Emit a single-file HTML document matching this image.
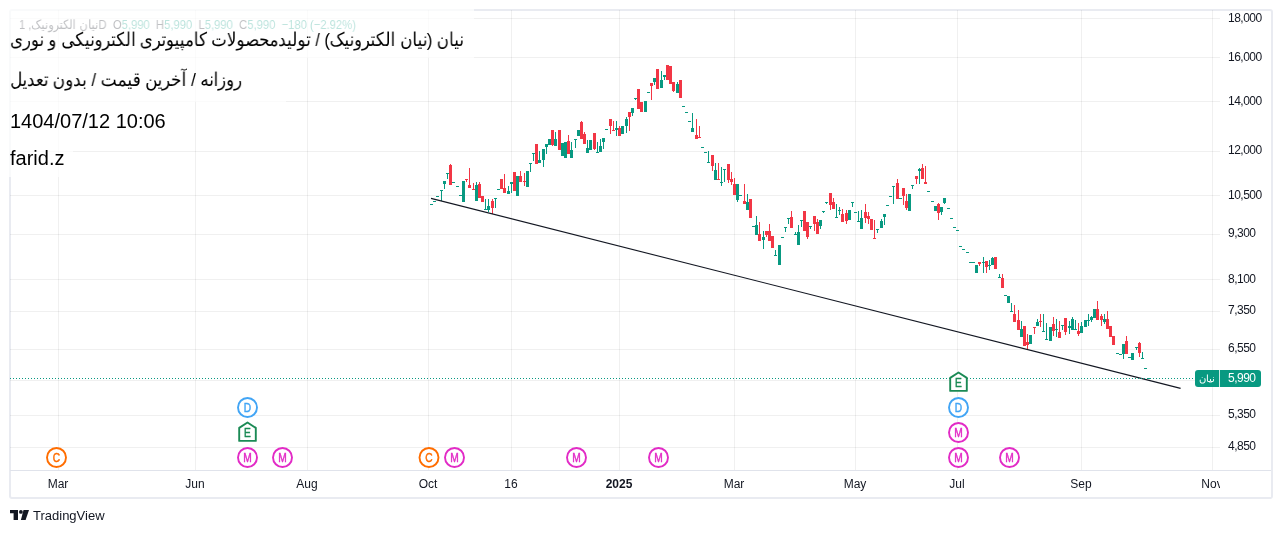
<!DOCTYPE html>
<html><head><meta charset="utf-8">
<style>
html,body{margin:0;padding:0;background:#fff;}
div{will-change:transform;}
body{width:1282px;height:533px;position:relative;overflow:hidden;font-family:"Liberation Sans",sans-serif;color:#131722;}
svg{position:absolute;left:0;top:0;}
.pl{position:absolute;left:1228px;font-size:12px;line-height:14px;letter-spacing:-0.5px;color:#131722;}
.tl{position:absolute;top:477px;width:60px;text-align:center;font-size:12px;line-height:14px;color:#131722;}
.tl.b{font-weight:bold;}
.box{position:absolute;background:rgba(255,255,255,0.73);}
.tt{position:absolute;left:10px;font-size:19px;line-height:24px;color:#000;white-space:nowrap;transform-origin:0 0;}
.legend{position:absolute;left:19px;top:18px;font-size:13px;line-height:14px;color:#131722;white-space:nowrap;transform-origin:0 0;transform:scaleX(0.864);}
.legend .v{color:#089981;}
</style></head><body>
<svg width="1282" height="533" shape-rendering="crispEdges">
<rect x="10" y="10" width="1262" height="488" rx="2" fill="none" stroke="#e9ebf1" stroke-width="2" shape-rendering="geometricPrecision"/>
<rect x="10" y="18" width="1210" height="1" fill="rgba(0,0,0,0.06)"/>
<rect x="10" y="57" width="1210" height="1" fill="rgba(0,0,0,0.06)"/>
<rect x="10" y="101" width="1210" height="1" fill="rgba(0,0,0,0.06)"/>
<rect x="10" y="151" width="1210" height="1" fill="rgba(0,0,0,0.06)"/>
<rect x="10" y="195" width="1210" height="1" fill="rgba(0,0,0,0.06)"/>
<rect x="10" y="234" width="1210" height="1" fill="rgba(0,0,0,0.06)"/>
<rect x="10" y="279" width="1210" height="1" fill="rgba(0,0,0,0.06)"/>
<rect x="10" y="311" width="1210" height="1" fill="rgba(0,0,0,0.06)"/>
<rect x="10" y="349" width="1210" height="1" fill="rgba(0,0,0,0.06)"/>
<rect x="10" y="380" width="1210" height="1" fill="rgba(0,0,0,0.06)"/>
<rect x="10" y="415" width="1210" height="1" fill="rgba(0,0,0,0.06)"/>
<rect x="10" y="447" width="1210" height="1" fill="rgba(0,0,0,0.06)"/>
<rect x="58" y="10" width="1" height="460" fill="rgba(0,0,0,0.06)"/>
<rect x="195" y="10" width="1" height="460" fill="rgba(0,0,0,0.06)"/>
<rect x="307" y="10" width="1" height="460" fill="rgba(0,0,0,0.06)"/>
<rect x="428" y="10" width="1" height="460" fill="rgba(0,0,0,0.06)"/>
<rect x="511" y="10" width="1" height="460" fill="rgba(0,0,0,0.06)"/>
<rect x="619" y="10" width="1" height="460" fill="rgba(0,0,0,0.06)"/>
<rect x="734" y="10" width="1" height="460" fill="rgba(0,0,0,0.06)"/>
<rect x="855" y="10" width="1" height="460" fill="rgba(0,0,0,0.06)"/>
<rect x="957" y="10" width="1" height="460" fill="rgba(0,0,0,0.06)"/>
<rect x="1081" y="10" width="1" height="460" fill="rgba(0,0,0,0.06)"/>
<rect x="1212" y="10" width="1" height="460" fill="rgba(0,0,0,0.06)"/>
<rect x="10" y="470" width="1261" height="1" fill="#e0e3eb"/>
</svg>
<div class="legend"><span dir="rtl">نیان الکترونیک, 1</span>D&nbsp; O<span class="v">5,990</span>&nbsp; H<span class="v">5,990</span>&nbsp; L<span class="v">5,990</span>&nbsp; C<span class="v">5,990</span>&nbsp; <span class="v">−180 (−2.92%)</span></div>
<svg width="1282" height="533" shape-rendering="crispEdges">
<rect x="430" y="204" width="3" height="1" fill="#089981"/>
<rect x="433" y="201" width="3" height="1" fill="#089981"/>
<rect x="436" y="196" width="3" height="1" fill="#089981"/>
<rect x="441" y="190" width="1" height="11" fill="#089981"/>
<rect x="440" y="190" width="3" height="1" fill="#089981"/>
<rect x="444" y="181" width="1" height="8" fill="#089981"/>
<rect x="443" y="181" width="3" height="3" fill="#089981"/>
<rect x="447" y="173" width="1" height="6" fill="#089981"/>
<rect x="446" y="173" width="3" height="1" fill="#089981"/>
<rect x="450" y="164" width="1" height="21" fill="#f23645"/>
<rect x="449" y="165" width="3" height="20" fill="#f23645"/>
<rect x="452" y="182" width="3" height="1" fill="#089981"/>
<rect x="456" y="186" width="3" height="1" fill="#089981"/>
<rect x="459" y="195" width="3" height="1" fill="#089981"/>
<rect x="462" y="181" width="3" height="21" fill="#089981"/>
<rect x="466" y="179" width="1" height="3" fill="#f23645"/>
<rect x="465" y="179" width="3" height="1" fill="#f23645"/>
<rect x="469" y="168" width="1" height="20" fill="#f23645"/>
<rect x="468" y="185" width="3" height="3" fill="#f23645"/>
<rect x="473" y="183" width="1" height="7" fill="#f23645"/>
<rect x="472" y="189" width="3" height="1" fill="#f23645"/>
<rect x="476" y="182" width="1" height="19" fill="#089981"/>
<rect x="475" y="185" width="3" height="16" fill="#089981"/>
<rect x="479" y="182" width="1" height="16" fill="#f23645"/>
<rect x="478" y="184" width="3" height="14" fill="#f23645"/>
<rect x="481" y="196" width="3" height="6" fill="#f23645"/>
<rect x="485" y="199" width="1" height="11" fill="#089981"/>
<rect x="484" y="209" width="3" height="1" fill="#089981"/>
<rect x="488" y="199" width="1" height="13" fill="#089981"/>
<rect x="487" y="206" width="3" height="4" fill="#089981"/>
<rect x="492" y="199" width="1" height="15" fill="#f23645"/>
<rect x="491" y="201" width="3" height="7" fill="#f23645"/>
<rect x="495" y="198" width="1" height="10" fill="#089981"/>
<rect x="494" y="198" width="3" height="1" fill="#089981"/>
<rect x="497" y="189" width="3" height="1" fill="#089981"/>
<rect x="500" y="179" width="3" height="10" fill="#f23645"/>
<rect x="504" y="174" width="1" height="19" fill="#f23645"/>
<rect x="503" y="188" width="3" height="5" fill="#f23645"/>
<rect x="508" y="186" width="1" height="8" fill="#089981"/>
<rect x="507" y="191" width="3" height="3" fill="#089981"/>
<rect x="511" y="182" width="1" height="11" fill="#089981"/>
<rect x="510" y="182" width="3" height="2" fill="#089981"/>
<rect x="513" y="172" width="3" height="19" fill="#f23645"/>
<rect x="516" y="176" width="3" height="20" fill="#089981"/>
<rect x="520" y="171" width="1" height="11" fill="#f23645"/>
<rect x="519" y="176" width="3" height="6" fill="#f23645"/>
<rect x="524" y="173" width="1" height="13" fill="#f23645"/>
<rect x="523" y="181" width="3" height="1" fill="#f23645"/>
<rect x="526" y="171" width="3" height="16" fill="#089981"/>
<rect x="530" y="163" width="1" height="9" fill="#089981"/>
<rect x="529" y="163" width="3" height="1" fill="#089981"/>
<rect x="533" y="153" width="1" height="8" fill="#089981"/>
<rect x="532" y="153" width="3" height="1" fill="#089981"/>
<rect x="535" y="144" width="3" height="20" fill="#f23645"/>
<rect x="539" y="151" width="1" height="12" fill="#089981"/>
<rect x="538" y="160" width="3" height="3" fill="#089981"/>
<rect x="543" y="149" width="1" height="18" fill="#089981"/>
<rect x="542" y="149" width="3" height="11" fill="#089981"/>
<rect x="546" y="144" width="1" height="10" fill="#089981"/>
<rect x="545" y="144" width="3" height="3" fill="#089981"/>
<rect x="548" y="139" width="3" height="6" fill="#089981"/>
<rect x="552" y="130" width="1" height="16" fill="#f23645"/>
<rect x="551" y="130" width="3" height="15" fill="#f23645"/>
<rect x="555" y="132" width="1" height="14" fill="#089981"/>
<rect x="554" y="139" width="3" height="7" fill="#089981"/>
<rect x="558" y="130" width="3" height="20" fill="#f23645"/>
<rect x="561" y="143" width="3" height="13" fill="#089981"/>
<rect x="564" y="142" width="3" height="16" fill="#089981"/>
<rect x="568" y="135" width="1" height="19" fill="#f23645"/>
<rect x="567" y="141" width="3" height="13" fill="#f23645"/>
<rect x="571" y="142" width="1" height="16" fill="#089981"/>
<rect x="570" y="150" width="3" height="8" fill="#089981"/>
<rect x="575" y="139" width="1" height="9" fill="#089981"/>
<rect x="574" y="139" width="3" height="1" fill="#089981"/>
<rect x="577" y="130" width="3" height="6" fill="#089981"/>
<rect x="581" y="121" width="1" height="18" fill="#f23645"/>
<rect x="580" y="122" width="3" height="17" fill="#f23645"/>
<rect x="584" y="132" width="1" height="12" fill="#f23645"/>
<rect x="583" y="134" width="3" height="10" fill="#f23645"/>
<rect x="587" y="140" width="1" height="13" fill="#089981"/>
<rect x="586" y="148" width="3" height="5" fill="#089981"/>
<rect x="589" y="140" width="3" height="10" fill="#089981"/>
<rect x="594" y="133" width="1" height="17" fill="#f23645"/>
<rect x="593" y="133" width="3" height="16" fill="#f23645"/>
<rect x="597" y="142" width="1" height="11" fill="#089981"/>
<rect x="596" y="152" width="3" height="1" fill="#089981"/>
<rect x="600" y="139" width="1" height="13" fill="#089981"/>
<rect x="599" y="146" width="3" height="6" fill="#089981"/>
<rect x="603" y="138" width="1" height="11" fill="#089981"/>
<rect x="602" y="138" width="3" height="4" fill="#089981"/>
<rect x="605" y="129" width="3" height="1" fill="#089981"/>
<rect x="610" y="119" width="1" height="15" fill="#f23645"/>
<rect x="609" y="119" width="3" height="7" fill="#f23645"/>
<rect x="613" y="121" width="1" height="10" fill="#f23645"/>
<rect x="612" y="130" width="3" height="1" fill="#f23645"/>
<rect x="616" y="121" width="1" height="15" fill="#089981"/>
<rect x="615" y="128" width="3" height="2" fill="#089981"/>
<rect x="619" y="126" width="1" height="10" fill="#f23645"/>
<rect x="618" y="128" width="3" height="8" fill="#f23645"/>
<rect x="621" y="126" width="3" height="8" fill="#089981"/>
<rect x="626" y="117" width="1" height="16" fill="#089981"/>
<rect x="625" y="119" width="3" height="7" fill="#089981"/>
<rect x="629" y="112" width="1" height="19" fill="#f23645"/>
<rect x="628" y="112" width="3" height="5" fill="#f23645"/>
<rect x="632" y="108" width="1" height="8" fill="#089981"/>
<rect x="631" y="108" width="3" height="5" fill="#089981"/>
<rect x="635" y="98" width="1" height="2" fill="#089981"/>
<rect x="634" y="98" width="3" height="1" fill="#089981"/>
<rect x="637" y="89" width="3" height="20" fill="#f23645"/>
<rect x="640" y="102" width="3" height="10" fill="#f23645"/>
<rect x="644" y="101" width="3" height="11" fill="#089981"/>
<rect x="647" y="92" width="3" height="1" fill="#089981"/>
<rect x="651" y="83" width="1" height="17" fill="#f23645"/>
<rect x="650" y="83" width="3" height="3" fill="#f23645"/>
<rect x="654" y="78" width="1" height="7" fill="#089981"/>
<rect x="653" y="78" width="3" height="4" fill="#089981"/>
<rect x="656" y="69" width="3" height="20" fill="#f23645"/>
<rect x="661" y="71" width="1" height="17" fill="#089981"/>
<rect x="660" y="80" width="3" height="8" fill="#089981"/>
<rect x="664" y="75" width="1" height="5" fill="#089981"/>
<rect x="663" y="75" width="3" height="2" fill="#089981"/>
<rect x="666" y="65" width="3" height="15" fill="#f23645"/>
<rect x="669" y="66" width="3" height="18" fill="#f23645"/>
<rect x="673" y="82" width="1" height="10" fill="#f23645"/>
<rect x="672" y="82" width="3" height="9" fill="#f23645"/>
<rect x="677" y="82" width="1" height="11" fill="#089981"/>
<rect x="676" y="84" width="3" height="9" fill="#089981"/>
<rect x="679" y="80" width="3" height="18" fill="#f23645"/>
<rect x="682" y="106" width="3" height="1" fill="#089981"/>
<rect x="685" y="112" width="3" height="1" fill="#089981"/>
<rect x="688" y="121" width="3" height="1" fill="#089981"/>
<rect x="692" y="113" width="1" height="19" fill="#089981"/>
<rect x="691" y="128" width="3" height="4" fill="#089981"/>
<rect x="696" y="119" width="1" height="20" fill="#f23645"/>
<rect x="695" y="135" width="3" height="4" fill="#f23645"/>
<rect x="699" y="126" width="1" height="12" fill="#f23645"/>
<rect x="698" y="137" width="3" height="1" fill="#f23645"/>
<rect x="701" y="147" width="3" height="1" fill="#089981"/>
<rect x="704" y="152" width="3" height="1" fill="#089981"/>
<rect x="708" y="151" width="1" height="12" fill="#089981"/>
<rect x="707" y="162" width="3" height="1" fill="#089981"/>
<rect x="712" y="155" width="1" height="16" fill="#f23645"/>
<rect x="711" y="155" width="3" height="11" fill="#f23645"/>
<rect x="715" y="163" width="1" height="17" fill="#089981"/>
<rect x="714" y="170" width="3" height="10" fill="#089981"/>
<rect x="718" y="163" width="1" height="17" fill="#f23645"/>
<rect x="717" y="179" width="3" height="1" fill="#f23645"/>
<rect x="721" y="167" width="1" height="19" fill="#089981"/>
<rect x="720" y="182" width="3" height="1" fill="#089981"/>
<rect x="724" y="169" width="1" height="13" fill="#089981"/>
<rect x="723" y="169" width="3" height="1" fill="#089981"/>
<rect x="728" y="164" width="1" height="19" fill="#f23645"/>
<rect x="727" y="164" width="3" height="16" fill="#f23645"/>
<rect x="731" y="172" width="1" height="13" fill="#f23645"/>
<rect x="730" y="179" width="3" height="3" fill="#f23645"/>
<rect x="734" y="178" width="1" height="17" fill="#f23645"/>
<rect x="733" y="184" width="3" height="11" fill="#f23645"/>
<rect x="737" y="184" width="1" height="18" fill="#089981"/>
<rect x="736" y="184" width="3" height="16" fill="#089981"/>
<rect x="739" y="195" width="3" height="1" fill="#089981"/>
<rect x="744" y="184" width="1" height="20" fill="#f23645"/>
<rect x="743" y="201" width="3" height="3" fill="#f23645"/>
<rect x="747" y="194" width="1" height="16" fill="#089981"/>
<rect x="746" y="202" width="3" height="8" fill="#089981"/>
<rect x="749" y="199" width="3" height="19" fill="#f23645"/>
<rect x="752" y="226" width="3" height="1" fill="#089981"/>
<rect x="756" y="216" width="1" height="19" fill="#089981"/>
<rect x="755" y="225" width="3" height="10" fill="#089981"/>
<rect x="759" y="222" width="1" height="19" fill="#f23645"/>
<rect x="758" y="234" width="3" height="7" fill="#f23645"/>
<rect x="763" y="231" width="1" height="18" fill="#089981"/>
<rect x="762" y="237" width="3" height="3" fill="#089981"/>
<rect x="766" y="231" width="1" height="6" fill="#f23645"/>
<rect x="765" y="231" width="3" height="4" fill="#f23645"/>
<rect x="769" y="224" width="1" height="17" fill="#f23645"/>
<rect x="768" y="231" width="3" height="10" fill="#f23645"/>
<rect x="771" y="236" width="3" height="12" fill="#f23645"/>
<rect x="775" y="250" width="1" height="6" fill="#089981"/>
<rect x="774" y="255" width="3" height="1" fill="#089981"/>
<rect x="778" y="245" width="3" height="20" fill="#089981"/>
<rect x="781" y="237" width="3" height="1" fill="#089981"/>
<rect x="785" y="227" width="1" height="5" fill="#089981"/>
<rect x="784" y="227" width="3" height="1" fill="#089981"/>
<rect x="788" y="218" width="1" height="6" fill="#089981"/>
<rect x="787" y="218" width="3" height="1" fill="#089981"/>
<rect x="791" y="211" width="1" height="17" fill="#f23645"/>
<rect x="790" y="217" width="3" height="11" fill="#f23645"/>
<rect x="795" y="232" width="1" height="3" fill="#089981"/>
<rect x="794" y="234" width="3" height="1" fill="#089981"/>
<rect x="798" y="225" width="1" height="20" fill="#089981"/>
<rect x="797" y="232" width="3" height="13" fill="#089981"/>
<rect x="801" y="220" width="1" height="7" fill="#089981"/>
<rect x="800" y="220" width="3" height="1" fill="#089981"/>
<rect x="803" y="211" width="3" height="20" fill="#f23645"/>
<rect x="807" y="222" width="1" height="17" fill="#f23645"/>
<rect x="806" y="222" width="3" height="15" fill="#f23645"/>
<rect x="810" y="226" width="1" height="3" fill="#089981"/>
<rect x="809" y="226" width="3" height="1" fill="#089981"/>
<rect x="814" y="216" width="1" height="15" fill="#f23645"/>
<rect x="813" y="216" width="3" height="8" fill="#f23645"/>
<rect x="817" y="219" width="1" height="15" fill="#f23645"/>
<rect x="816" y="222" width="3" height="12" fill="#f23645"/>
<rect x="820" y="220" width="1" height="9" fill="#089981"/>
<rect x="819" y="220" width="3" height="6" fill="#089981"/>
<rect x="823" y="211" width="1" height="2" fill="#089981"/>
<rect x="822" y="211" width="3" height="1" fill="#089981"/>
<rect x="826" y="202" width="1" height="2" fill="#089981"/>
<rect x="825" y="202" width="3" height="1" fill="#089981"/>
<rect x="830" y="193" width="1" height="17" fill="#f23645"/>
<rect x="829" y="193" width="3" height="12" fill="#f23645"/>
<rect x="833" y="198" width="1" height="11" fill="#f23645"/>
<rect x="832" y="202" width="3" height="7" fill="#f23645"/>
<rect x="836" y="204" width="1" height="14" fill="#089981"/>
<rect x="835" y="217" width="3" height="1" fill="#089981"/>
<rect x="839" y="207" width="1" height="8" fill="#089981"/>
<rect x="838" y="210" width="3" height="1" fill="#089981"/>
<rect x="842" y="209" width="1" height="13" fill="#f23645"/>
<rect x="841" y="214" width="3" height="8" fill="#f23645"/>
<rect x="846" y="210" width="1" height="14" fill="#f23645"/>
<rect x="845" y="213" width="3" height="8" fill="#f23645"/>
<rect x="848" y="210" width="3" height="10" fill="#089981"/>
<rect x="852" y="202" width="1" height="5" fill="#089981"/>
<rect x="851" y="202" width="3" height="1" fill="#089981"/>
<rect x="854" y="212" width="3" height="1" fill="#089981"/>
<rect x="858" y="211" width="1" height="11" fill="#089981"/>
<rect x="857" y="221" width="3" height="1" fill="#089981"/>
<rect x="861" y="210" width="1" height="19" fill="#089981"/>
<rect x="860" y="218" width="3" height="11" fill="#089981"/>
<rect x="865" y="204" width="1" height="19" fill="#f23645"/>
<rect x="864" y="212" width="3" height="6" fill="#f23645"/>
<rect x="868" y="212" width="1" height="12" fill="#f23645"/>
<rect x="867" y="216" width="3" height="3" fill="#f23645"/>
<rect x="870" y="219" width="3" height="11" fill="#f23645"/>
<rect x="874" y="220" width="1" height="19" fill="#f23645"/>
<rect x="873" y="238" width="3" height="1" fill="#f23645"/>
<rect x="877" y="229" width="1" height="4" fill="#089981"/>
<rect x="876" y="229" width="3" height="1" fill="#089981"/>
<rect x="881" y="219" width="1" height="9" fill="#089981"/>
<rect x="880" y="221" width="3" height="7" fill="#089981"/>
<rect x="884" y="214" width="1" height="11" fill="#089981"/>
<rect x="883" y="214" width="3" height="3" fill="#089981"/>
<rect x="886" y="205" width="3" height="1" fill="#089981"/>
<rect x="889" y="196" width="3" height="1" fill="#089981"/>
<rect x="893" y="186" width="1" height="18" fill="#089981"/>
<rect x="892" y="186" width="3" height="1" fill="#089981"/>
<rect x="897" y="179" width="1" height="20" fill="#f23645"/>
<rect x="896" y="183" width="3" height="16" fill="#f23645"/>
<rect x="899" y="198" width="3" height="1" fill="#089981"/>
<rect x="903" y="188" width="1" height="17" fill="#f23645"/>
<rect x="902" y="188" width="3" height="8" fill="#f23645"/>
<rect x="906" y="194" width="1" height="16" fill="#f23645"/>
<rect x="905" y="201" width="3" height="7" fill="#f23645"/>
<rect x="908" y="194" width="3" height="17" fill="#089981"/>
<rect x="912" y="185" width="1" height="4" fill="#089981"/>
<rect x="911" y="185" width="3" height="1" fill="#089981"/>
<rect x="916" y="176" width="1" height="8" fill="#f23645"/>
<rect x="915" y="176" width="3" height="3" fill="#f23645"/>
<rect x="919" y="168" width="1" height="16" fill="#089981"/>
<rect x="918" y="169" width="3" height="2" fill="#089981"/>
<rect x="922" y="164" width="1" height="15" fill="#f23645"/>
<rect x="921" y="168" width="3" height="11" fill="#f23645"/>
<rect x="925" y="166" width="1" height="18" fill="#f23645"/>
<rect x="924" y="182" width="3" height="2" fill="#f23645"/>
<rect x="927" y="191" width="3" height="1" fill="#089981"/>
<rect x="931" y="201" width="3" height="1" fill="#089981"/>
<rect x="934" y="206" width="3" height="5" fill="#089981"/>
<rect x="938" y="203" width="1" height="17" fill="#f23645"/>
<rect x="937" y="204" width="3" height="9" fill="#f23645"/>
<rect x="941" y="207" width="1" height="8" fill="#089981"/>
<rect x="940" y="207" width="3" height="5" fill="#089981"/>
<rect x="944" y="198" width="1" height="6" fill="#089981"/>
<rect x="943" y="198" width="3" height="5" fill="#089981"/>
<rect x="947" y="208" width="3" height="1" fill="#089981"/>
<rect x="950" y="218" width="3" height="1" fill="#089981"/>
<rect x="953" y="227" width="3" height="1" fill="#089981"/>
<rect x="956" y="230" width="3" height="1" fill="#089981"/>
<rect x="959" y="246" width="3" height="1" fill="#089981"/>
<rect x="962" y="249" width="3" height="1" fill="#089981"/>
<rect x="966" y="252" width="3" height="1" fill="#089981"/>
<rect x="969" y="262" width="3" height="1" fill="#089981"/>
<rect x="972" y="262" width="3" height="1" fill="#089981"/>
<rect x="975" y="265" width="3" height="8" fill="#089981"/>
<rect x="979" y="262" width="1" height="4" fill="#f23645"/>
<rect x="978" y="262" width="3" height="2" fill="#f23645"/>
<rect x="983" y="257" width="1" height="16" fill="#089981"/>
<rect x="982" y="262" width="3" height="1" fill="#089981"/>
<rect x="986" y="261" width="1" height="12" fill="#f23645"/>
<rect x="985" y="261" width="3" height="6" fill="#f23645"/>
<rect x="989" y="260" width="1" height="10" fill="#089981"/>
<rect x="988" y="265" width="3" height="1" fill="#089981"/>
<rect x="992" y="257" width="1" height="8" fill="#089981"/>
<rect x="991" y="258" width="3" height="7" fill="#089981"/>
<rect x="994" y="257" width="3" height="12" fill="#f23645"/>
<rect x="999" y="274" width="1" height="4" fill="#089981"/>
<rect x="998" y="277" width="3" height="1" fill="#089981"/>
<rect x="1002" y="274" width="1" height="14" fill="#f23645"/>
<rect x="1001" y="278" width="3" height="10" fill="#f23645"/>
<rect x="1004" y="295" width="3" height="1" fill="#089981"/>
<rect x="1007" y="296" width="3" height="7" fill="#089981"/>
<rect x="1011" y="303" width="1" height="9" fill="#089981"/>
<rect x="1010" y="311" width="3" height="1" fill="#089981"/>
<rect x="1014" y="305" width="1" height="17" fill="#f23645"/>
<rect x="1013" y="314" width="3" height="8" fill="#f23645"/>
<rect x="1018" y="310" width="1" height="20" fill="#f23645"/>
<rect x="1017" y="320" width="3" height="10" fill="#f23645"/>
<rect x="1021" y="321" width="1" height="16" fill="#089981"/>
<rect x="1020" y="329" width="3" height="8" fill="#089981"/>
<rect x="1023" y="326" width="3" height="20" fill="#f23645"/>
<rect x="1027" y="334" width="1" height="15" fill="#f23645"/>
<rect x="1026" y="342" width="3" height="3" fill="#f23645"/>
<rect x="1029" y="335" width="3" height="9" fill="#089981"/>
<rect x="1034" y="327" width="1" height="7" fill="#f23645"/>
<rect x="1033" y="327" width="3" height="1" fill="#f23645"/>
<rect x="1037" y="319" width="1" height="7" fill="#089981"/>
<rect x="1036" y="322" width="3" height="4" fill="#089981"/>
<rect x="1040" y="314" width="1" height="13" fill="#f23645"/>
<rect x="1039" y="321" width="3" height="1" fill="#f23645"/>
<rect x="1043" y="314" width="1" height="18" fill="#089981"/>
<rect x="1042" y="331" width="3" height="1" fill="#089981"/>
<rect x="1046" y="323" width="1" height="17" fill="#089981"/>
<rect x="1045" y="339" width="3" height="1" fill="#089981"/>
<rect x="1049" y="327" width="3" height="14" fill="#089981"/>
<rect x="1053" y="317" width="1" height="19" fill="#f23645"/>
<rect x="1052" y="324" width="3" height="7" fill="#f23645"/>
<rect x="1056" y="319" width="1" height="18" fill="#089981"/>
<rect x="1055" y="329" width="3" height="1" fill="#089981"/>
<rect x="1059" y="321" width="1" height="17" fill="#f23645"/>
<rect x="1058" y="332" width="3" height="6" fill="#f23645"/>
<rect x="1062" y="325" width="1" height="5" fill="#089981"/>
<rect x="1061" y="325" width="3" height="1" fill="#089981"/>
<rect x="1065" y="318" width="1" height="17" fill="#f23645"/>
<rect x="1064" y="318" width="3" height="14" fill="#f23645"/>
<rect x="1069" y="321" width="1" height="13" fill="#089981"/>
<rect x="1068" y="326" width="3" height="2" fill="#089981"/>
<rect x="1072" y="317" width="1" height="13" fill="#089981"/>
<rect x="1071" y="319" width="3" height="11" fill="#089981"/>
<rect x="1075" y="320" width="1" height="10" fill="#089981"/>
<rect x="1074" y="329" width="3" height="1" fill="#089981"/>
<rect x="1078" y="323" width="1" height="13" fill="#f23645"/>
<rect x="1077" y="331" width="3" height="3" fill="#f23645"/>
<rect x="1081" y="322" width="1" height="11" fill="#089981"/>
<rect x="1080" y="326" width="3" height="7" fill="#089981"/>
<rect x="1084" y="320" width="3" height="7" fill="#089981"/>
<rect x="1088" y="314" width="1" height="12" fill="#089981"/>
<rect x="1087" y="320" width="3" height="1" fill="#089981"/>
<rect x="1091" y="316" width="1" height="6" fill="#089981"/>
<rect x="1090" y="317" width="3" height="3" fill="#089981"/>
<rect x="1093" y="309" width="3" height="9" fill="#089981"/>
<rect x="1097" y="301" width="1" height="19" fill="#f23645"/>
<rect x="1096" y="309" width="3" height="11" fill="#f23645"/>
<rect x="1101" y="314" width="1" height="12" fill="#f23645"/>
<rect x="1100" y="316" width="3" height="4" fill="#f23645"/>
<rect x="1104" y="314" width="1" height="10" fill="#089981"/>
<rect x="1103" y="319" width="3" height="3" fill="#089981"/>
<rect x="1107" y="311" width="1" height="18" fill="#f23645"/>
<rect x="1106" y="319" width="3" height="10" fill="#f23645"/>
<rect x="1109" y="326" width="3" height="11" fill="#f23645"/>
<rect x="1112" y="336" width="3" height="9" fill="#f23645"/>
<rect x="1116" y="353" width="3" height="1" fill="#089981"/>
<rect x="1119" y="354" width="3" height="1" fill="#089981"/>
<rect x="1123" y="344" width="1" height="15" fill="#089981"/>
<rect x="1122" y="344" width="3" height="10" fill="#089981"/>
<rect x="1126" y="336" width="1" height="18" fill="#f23645"/>
<rect x="1125" y="341" width="3" height="13" fill="#f23645"/>
<rect x="1128" y="357" width="3" height="1" fill="#089981"/>
<rect x="1131" y="353" width="3" height="7" fill="#089981"/>
<rect x="1136" y="347" width="1" height="3" fill="#089981"/>
<rect x="1135" y="347" width="3" height="1" fill="#089981"/>
<rect x="1139" y="342" width="1" height="15" fill="#f23645"/>
<rect x="1138" y="343" width="3" height="10" fill="#f23645"/>
<rect x="1142" y="352" width="1" height="7" fill="#089981"/>
<rect x="1141" y="358" width="3" height="1" fill="#089981"/>
<rect x="1144" y="368" width="3" height="1" fill="#089981"/>
<rect x="1147" y="378" width="3" height="1" fill="#089981"/>
</svg>
<svg width="1282" height="533">
<line x1="431" y1="198.4" x2="1180.6" y2="388.4" stroke="#131722" stroke-width="1.1"/>
<line x1="10" y1="378.5" x2="1194" y2="378.5" stroke="#089981" stroke-width="1" stroke-dasharray="1 2"/>
<g font-family="Liberation Sans, sans-serif"><circle cx="56.5" cy="457.5" r="9.5" fill="#fff" stroke="#ff6d00" stroke-width="1.9"/><text transform="translate(56.5,461.7) scale(0.85,1)" fill="#ff6d00" stroke="#ff6d00" stroke-width="0.45" font-size="12" text-anchor="middle">C</text>
<circle cx="247.5" cy="407.5" r="9.5" fill="#fff" stroke="#42a5f5" stroke-width="1.9"/><text transform="translate(247.5,411.7) scale(0.85,1)" fill="#42a5f5" stroke="#42a5f5" stroke-width="0.45" font-size="12" text-anchor="middle">D</text>
<path d="M239.2 427.9 L247.5 422.5 L255.8 427.9 L255.8 440.9 L239.2 440.9 Z" fill="#fff" stroke="#1b8a55" stroke-width="1.9" stroke-linejoin="round"/><text transform="translate(247.5,437.1) scale(0.85,1)" fill="#1b8a55" stroke="#1b8a55" stroke-width="0.45" font-size="12" text-anchor="middle">E</text>
<circle cx="247.5" cy="457.5" r="9.5" fill="#fff" stroke="#e22bc6" stroke-width="1.9"/><text transform="translate(247.5,461.7) scale(0.85,1)" fill="#e22bc6" stroke="#e22bc6" stroke-width="0.45" font-size="12" text-anchor="middle">M</text>
<circle cx="282.5" cy="457.5" r="9.5" fill="#fff" stroke="#e22bc6" stroke-width="1.9"/><text transform="translate(282.5,461.7) scale(0.85,1)" fill="#e22bc6" stroke="#e22bc6" stroke-width="0.45" font-size="12" text-anchor="middle">M</text>
<circle cx="429" cy="457.5" r="9.5" fill="#fff" stroke="#ff6d00" stroke-width="1.9"/><text transform="translate(429,461.7) scale(0.85,1)" fill="#ff6d00" stroke="#ff6d00" stroke-width="0.45" font-size="12" text-anchor="middle">C</text>
<circle cx="454.5" cy="457.5" r="9.5" fill="#fff" stroke="#e22bc6" stroke-width="1.9"/><text transform="translate(454.5,461.7) scale(0.85,1)" fill="#e22bc6" stroke="#e22bc6" stroke-width="0.45" font-size="12" text-anchor="middle">M</text>
<circle cx="576.5" cy="457.5" r="9.5" fill="#fff" stroke="#e22bc6" stroke-width="1.9"/><text transform="translate(576.5,461.7) scale(0.85,1)" fill="#e22bc6" stroke="#e22bc6" stroke-width="0.45" font-size="12" text-anchor="middle">M</text>
<circle cx="658.5" cy="457.5" r="9.5" fill="#fff" stroke="#e22bc6" stroke-width="1.9"/><text transform="translate(658.5,461.7) scale(0.85,1)" fill="#e22bc6" stroke="#e22bc6" stroke-width="0.45" font-size="12" text-anchor="middle">M</text>
<path d="M950.2 377.9 L958.5 372.5 L966.8 377.9 L966.8 390.9 L950.2 390.9 Z" fill="#fff" stroke="#1b8a55" stroke-width="1.9" stroke-linejoin="round"/><text transform="translate(958.5,387.1) scale(0.85,1)" fill="#1b8a55" stroke="#1b8a55" stroke-width="0.45" font-size="12" text-anchor="middle">E</text>
<circle cx="958.5" cy="407.5" r="9.5" fill="#fff" stroke="#42a5f5" stroke-width="1.9"/><text transform="translate(958.5,411.7) scale(0.85,1)" fill="#42a5f5" stroke="#42a5f5" stroke-width="0.45" font-size="12" text-anchor="middle">D</text>
<circle cx="958.5" cy="432.5" r="9.5" fill="#fff" stroke="#e22bc6" stroke-width="1.9"/><text transform="translate(958.5,436.7) scale(0.85,1)" fill="#e22bc6" stroke="#e22bc6" stroke-width="0.45" font-size="12" text-anchor="middle">M</text>
<circle cx="958.5" cy="457.5" r="9.5" fill="#fff" stroke="#e22bc6" stroke-width="1.9"/><text transform="translate(958.5,461.7) scale(0.85,1)" fill="#e22bc6" stroke="#e22bc6" stroke-width="0.45" font-size="12" text-anchor="middle">M</text>
<circle cx="1009.5" cy="457.5" r="9.5" fill="#fff" stroke="#e22bc6" stroke-width="1.9"/><text transform="translate(1009.5,461.7) scale(0.85,1)" fill="#e22bc6" stroke="#e22bc6" stroke-width="0.45" font-size="12" text-anchor="middle">M</text></g>
</svg>
<div class="box" style="left:9px;top:8px;width:465px;height:50px"></div>
<div class="box" style="left:9px;top:58px;width:277px;height:44px"></div>
<div class="box" style="left:9px;top:102px;width:166px;height:38px"></div>
<div class="box" style="left:9px;top:140px;width:64px;height:37px"></div>
<div class="tt" style="top:27.5px;transform:scaleX(0.871)" dir="rtl">نیان (نیان الکترونیک) / تولیدمحصولات کامپیوتری الکترونیکی و نوری</div>
<div class="tt" style="top:68px;transform:scaleX(0.889)" dir="rtl">روزانه / آخرین قیمت / بدون تعدیل</div>
<div class="tt" style="top:109px;font-size:20px">1404/07/12 10:06</div>
<div class="tt" style="top:145.5px;font-size:20px">farid.z</div>
<div class="pl" style="top:10.95px">18,000</div>
<div class="pl" style="top:49.7px">16,000</div>
<div class="pl" style="top:93.5px">14,000</div>
<div class="pl" style="top:143.45px">12,000</div>
<div class="pl" style="top:187.75px">10,500</div>
<div class="pl" style="top:226px">9,300</div>
<div class="pl" style="top:271.85px">8,100</div>
<div class="pl" style="top:303.1px">7,350</div>
<div class="pl" style="top:340.6px">6,550</div>
<div class="pl" style="top:406.95px">5,350</div>
<div class="pl" style="top:439.35px">4,850</div>
<div class="tl" style="left:28px">Mar</div>
<div class="tl" style="left:165px">Jun</div>
<div class="tl" style="left:277px">Aug</div>
<div class="tl" style="left:398px">Oct</div>
<div class="tl" style="left:481px">16</div>
<div class="tl b" style="left:589px">2025</div>
<div class="tl" style="left:704px">Mar</div>
<div class="tl" style="left:825px">May</div>
<div class="tl" style="left:927px">Jul</div>
<div class="tl" style="left:1051px">Sep</div>
<div class="tl" style="left:1182px">Nov</div>
<div style="position:absolute;left:1220px;top:471px;width:51px;height:26px;background:#fff"></div>
<div style="position:absolute;left:1195px;top:370px;width:66px;height:17px;background:#089981;border-radius:3px;"></div>
<div style="position:absolute;left:1219px;top:370px;width:1px;height:17px;background:#fff;opacity:0.8"></div>
<div style="position:absolute;left:1195px;top:371px;width:24px;text-align:center;font-size:10px;line-height:15px;color:#fff">نیان</div>
<div style="position:absolute;left:1228px;top:371px;font-size:12px;line-height:15px;letter-spacing:-0.5px;color:#fff">5,990</div>
<svg width="1282" height="533">
<path d="M10 510 H18 V520 H13.6 V513.3 H10 Z" fill="#131722"/>
<circle cx="20.9" cy="511.9" r="1.9" fill="#131722"/>
<path d="M23.5 510 H29 L25.6 520 H20.9 Z" fill="#131722"/>
</svg>
<div style="position:absolute;left:33px;top:508px;font-size:13px;line-height:15px;color:#131722">TradingView</div>
</body></html>
